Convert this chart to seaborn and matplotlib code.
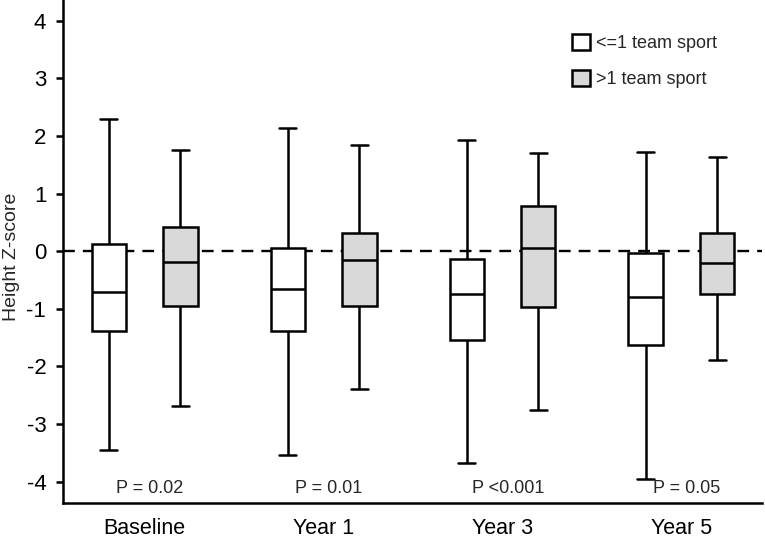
import numpy as np
import pandas as pd
import matplotlib
matplotlib.use("Agg")
import matplotlib.pyplot as plt
import seaborn as sns

sns.set_style("ticks")
plt.rcParams['font.family'] = ['Liberation Sans', 'DejaVu Sans']
plt.rcParams['axes.unicode_minus'] = False

years = ["Baseline", "Year 1", "Year 3", "Year 5"]
groups = ["<=1 team sport", ">1 team sport"]
p_labels = ["P = 0.02", "P = 0.01", "P <0.001", "P = 0.05"]

# five-number summaries (whisker low, Q1, median, Q3, whisker high)
low_whislo = [-3.45, -3.54, -3.67, -3.96]
low_q1 = [-1.39, -1.39, -1.54, -1.63]
low_med = [-0.71, -0.66, -0.75, -0.80]
low_q3 = [0.13, 0.05, -0.13, -0.03]
low_whishi = [2.29, 2.14, 1.93, 1.72]

high_whislo = [-2.69, -2.40, -2.76, -1.89]
high_q1 = [-0.95, -0.95, -0.97, -0.75]
high_med = [-0.19, -0.16, 0.05, -0.21]
high_q3 = [0.42, 0.31, 0.78, 0.31]
high_whishi = [1.75, 1.84, 1.70, 1.64]

rows = []
for i, yr in enumerate(years):
    for v in [low_whislo[i], low_q1[i], low_med[i], low_q3[i], low_whishi[i]]:
        rows.append((yr, groups[0], v))
    for v in [high_whislo[i], high_q1[i], high_med[i], high_q3[i], high_whishi[i]]:
        rows.append((yr, groups[1], v))
df = pd.DataFrame(rows, columns=["year", "group", "z"])

fig = plt.figure(figsize=(7.65, 5.41), dpi=100)
ax = fig.add_axes([63/765, 1 - 503/541, 699/765, 503/541])

ax.axhline(0, color="black", lw=1.7, ls=(0, (5.0, 3.4)), zorder=0.5)

sns.boxplot(data=df, x="year", y="z", hue="group", order=years, hue_order=groups,
            palette={groups[0]: "white", groups[1]: "#d9d9d9"},
            linecolor="black", linewidth=1.8, whis=(0, 100), width=0.8, gap=0.52,
            fliersize=0, saturation=1, ax=ax)

for i, p in enumerate(p_labels):
    ax.text(i + 0.03, -4.12, p, ha="center", va="center", fontsize=13)

ax.set_xlim(-0.456, 3.45)
ax.set_ylim(-4.37, 4.36)
ax.set_yticks(range(-4, 5))
ax.set_xlabel("")
ax.set_ylabel("Height Z-score", fontsize=14)
ax.yaxis.set_label_coords(-0.061, 0.49)

sns.despine(ax=ax)
for s in ["left", "bottom"]:
    ax.spines[s].set_linewidth(1.8)
    ax.spines[s].set_color("black")
ax.tick_params(axis="y", length=5, width=1.8, pad=7, labelsize=16, colors="black")
ax.tick_params(axis="x", length=0, pad=11, labelsize=15.5, colors="black")

leg = ax.legend(loc="upper left", bbox_to_anchor=(0.715, 0.95), frameon=False,
                handlelength=1.0, handleheight=1.0, labelspacing=0.95,
                handletextpad=0.35, borderpad=0, fontsize=13)
for h in leg.legend_handles:
    h.set_edgecolor("black")
    h.set_linewidth(1.8)

fig.savefig("out.png", dpi=100)
